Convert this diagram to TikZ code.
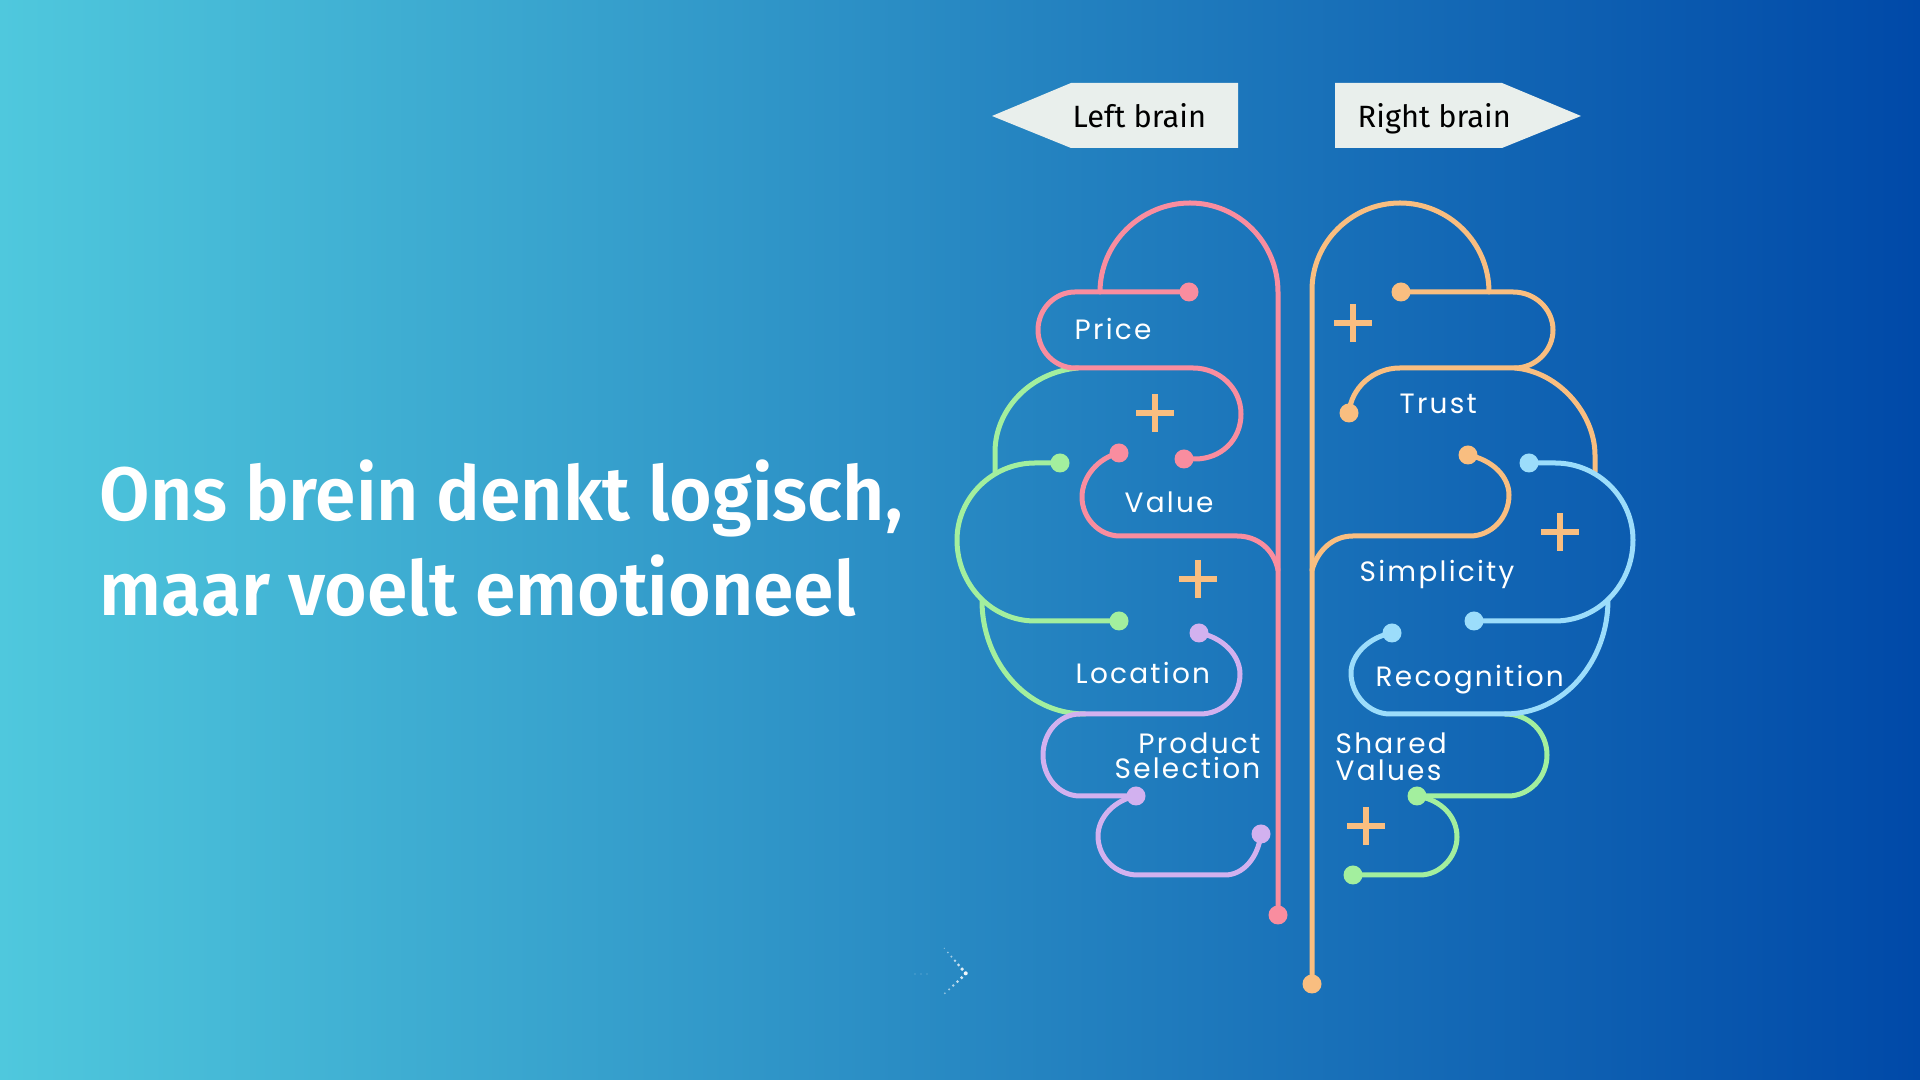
\documentclass[tikz,border=0pt]{standalone}
\usepackage{fontspec}
\setmainfont{Fira Sans}
\newfontfamily\headfont{Fira Sans}[UprightFont={* SemiBold}]
\newfontfamily\lblfont{Poppins}[LetterSpace=8]
\definecolor{pinkc}{HTML}{F98D9F}
\definecolor{greenc}{HTML}{A3EF9E}
\definecolor{purpc}{HTML}{D2B1EF}
\definecolor{orangec}{HTML}{F9BE80}
\definecolor{bluec}{HTML}{9CDDFB}
\definecolor{tagc}{HTML}{E9EFEC}
\definecolor{bgl}{HTML}{4FC8DD}
\definecolor{bgm}{HTML}{2A88C7}
\definecolor{bgr}{HTML}{0049A8}
\tikzset{
 wire/.style={line width=0.05cm,line cap=round,line join=round},
 dotp/.style={circle,inner sep=0pt,minimum size=0.19cm},
 lbl/.style={inner sep=0pt,text=white,font=\lblfont\fontsize{7.95}{9}\selectfont},
 tag/.style={fill=tagc,draw=none},
 tagtext/.style={inner sep=0pt,text=black,font=\fontsize{8.75}{10}\selectfont},
 head/.style={inner sep=0pt,text=white,xscale=0.967,font=\headfont\fontsize{21.5}{26}\selectfont},
 plusmark/.style={line width=0.06cm,draw=orangec}
}
\newcommand{\plusat}[2]{\draw[plusmark] (#1-19,#2)--(#1+19,#2) (#1,#2-19)--(#1,#2+19);}
\begin{document}
\begin{tikzpicture}[x=0.01cm,y=-0.01cm]
\useasboundingbox (0,0) rectangle (1920,1080);
\shade[left color=bgl,middle color=bgm,right color=bgr] (0,0) rectangle (1920,1080);
% tags
\fill[tag] (992,116)--(1071,83)--(1238,83)--(1238,148)--(1071,148)--cycle;
\fill[tag] (1335,83)--(1502,83)--(1581,116)--(1502,148)--(1335,148)--cycle;
\node[tagtext,anchor=base west] (leftt) at (1072,128) {Left brain};
\node[tagtext,anchor=base west] (rightt) at (1357,128) {Right brain};
% headline
\node[head,anchor=base west] (h1) at (99,521) {Ons brein denkt logisch,};
\node[head,anchor=base west] (h2) at (99,616) {maar voelt emotioneel};
% green left
\draw[wire,draw=greenc] (1078,368) .. controls (1030,372) and (995,410) .. (995,452) -- (995,472);
\draw[wire,draw=greenc] (1060,463) -- (1035,463) .. controls (992,463) and (957,498) .. (957,540) .. controls (957,585) and (992,621) .. (1035,621) -- (1119,621);
\draw[wire,draw=greenc] (982,601) .. controls (982,660) and (1025,714) .. (1085,714);
% purple
\draw[wire,draw=purpc] (1199,633) .. controls (1222,637) and (1240,655) .. (1240,674) .. controls (1240,697) and (1222,714) .. (1200,714) -- (1080,714) .. controls (1059,714) and (1043,733) .. (1043,755) .. controls (1043,777) and (1059,796) .. (1080,796) -- (1136,796);
\draw[wire,draw=purpc] (1136,796) .. controls (1115,800) and (1098,817) .. (1098,836) .. controls (1098,857) and (1115,875) .. (1138,875) -- (1225,875) .. controls (1243,875) and (1258,858) .. (1261,834);
% pink
\draw[wire,draw=pinkc] (1100,292) .. controls (1100,243) and (1141,203) .. (1190,203) .. controls (1239,203) and (1278,243) .. (1278,292) -- (1278,915);
\draw[wire,draw=pinkc] (1189,292) -- (1075,292) .. controls (1055,292) and (1038,309) .. (1038,330) .. controls (1038,351) and (1055,368) .. (1075,368) -- (1193,368) .. controls (1219,368) and (1241,388) .. (1241,414) .. controls (1241,440) and (1221,459) .. (1195,459) -- (1184,459);
\draw[wire,draw=pinkc] (1119,453) .. controls (1098,458) and (1082,477) .. (1082,497) .. controls (1082,518) and (1099,536) .. (1120,536) -- (1237,536) .. controls (1258,536) and (1274,550) .. (1278,570);
% orange
\draw[wire,draw=orangec] (1312,984) -- (1312,290) .. controls (1312,242) and (1352,203) .. (1400,203) .. controls (1448,203) and (1489,242) .. (1489,292);
\draw[wire,draw=orangec] (1401,292) -- (1513,292) .. controls (1535,292) and (1553,309) .. (1553,330) .. controls (1553,351) and (1535,368) .. (1515,368) -- (1400,368) .. controls (1373,368) and (1351,388) .. (1349,413);
\draw[wire,draw=orangec] (1515,368) .. controls (1560,372) and (1595,415) .. (1595,455) -- (1595,472);
\draw[wire,draw=orangec] (1468,455) .. controls (1493,460) and (1509,477) .. (1509,495) .. controls (1509,518) and (1491,536) .. (1470,536) -- (1353,536) .. controls (1333,536) and (1318,550) .. (1312,570);
% green right
\draw[wire,draw=greenc] (1505,714) .. controls (1530,714) and (1547,733) .. (1547,755) .. controls (1547,777) and (1530,796) .. (1508,796) -- (1417,796);
\draw[wire,draw=greenc] (1417,796) .. controls (1442,800) and (1457,817) .. (1457,837) .. controls (1457,857) and (1440,875) .. (1420,875) -- (1353,875);
% blue
\draw[wire,draw=bluec] (1529,463) -- (1555,463) .. controls (1598,463) and (1633,498) .. (1633,540) .. controls (1633,585) and (1598,621) .. (1555,621) -- (1474,621);
\draw[wire,draw=bluec] (1608,600) .. controls (1608,660) and (1565,714) .. (1505,714) -- (1390,714) .. controls (1369,714) and (1351,695) .. (1351,673) .. controls (1351,655) and (1369,637) .. (1392,633);
% dots
\foreach \n/\x/\y/\c in {p1/1189/292/pinkc,p2/1184/459/pinkc,p3/1119/453/pinkc,p4/1278/915/pinkc,
 g1/1060/463/greenc,g2/1119/621/greenc,g3/1417/796/greenc,g4/1353/875/greenc,
 v1/1199/633/purpc,v2/1136/796/purpc,v3/1261/834/purpc,
 o1/1401/292/orangec,o2/1349/413/orangec,o3/1468/455/orangec,o4/1312/984/orangec,
 b1/1529/463/bluec,b2/1474/621/bluec,b3/1392/633/bluec}
  \node[dotp,fill=\c] (\n) at (\x,\y) {};
% plus
\plusat{1155}{413}
\plusat{1198}{579}
\plusat{1353}{323}
\plusat{1560}{532}
\plusat{1366}{826}
% labels
\node[lbl,anchor=base west] (price) at (1074,339.5) {Price};
\node[lbl,anchor=base west] (value) at (1124,512.5) {Value};
\node[lbl,anchor=base west] (trust) at (1399,413.5) {Trust};
\node[lbl,anchor=base west] (simpl) at (1359,581.5) {Simplicity};
\node[lbl,anchor=base west] (locat) at (1075,683.5) {Location};
\node[lbl,anchor=base east] (prod) at (1261,753.5) {Product};
\node[lbl,anchor=base east] (selec) at (1261,778.5) {Selection};
\node[lbl,anchor=base west] (recog) at (1375,686.5) {Recognition};
\node[lbl,anchor=base west] (share) at (1335,753.5) {Shared};
\node[lbl,anchor=base west] (valu) at (1335,780.5) {Values};
% chevron
\foreach \t in {0,...,6}
  \fill[white,opacity=0.4+0.09*\t] ({944.3+\t*3.57},{948.3+\t*4.17}) circle ({0.7+0.22*\t});
\foreach \t in {0,...,4}
  \fill[white,opacity=0.8-0.08*\t] ({961.7-\t*4.2},{977.7+\t*3.9}) circle ({1.7-0.18*\t});
\foreach \xx in {915,921,927}
  \fill[white,opacity=0.18] (\xx,974) circle (0.8);
\end{tikzpicture}
\end{document}
